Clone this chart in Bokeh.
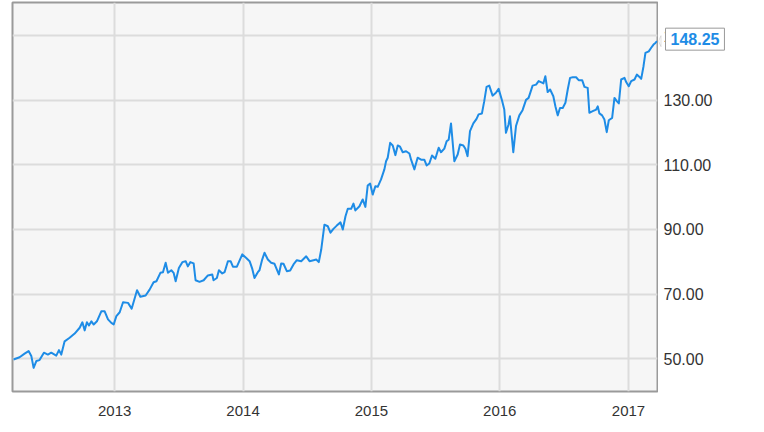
from datetime import datetime
from bokeh.plotting import figure
from bokeh.layouts import row
from bokeh.models import (Range1d, FixedTicker, DatetimeTickFormatter,
                          Label, PolyAnnotation)
from bokeh.core.properties import value
from bokeh.embed import file_html
from bokeh.resources import INLINE

# ---- data (decimal year, price) ----
year_frac = [
    2012.214, 2012.261, 2012.300, 2012.331, 2012.352, 2012.370, 2012.391, 2012.416, 2012.450, 2012.481,
    2012.507, 2012.533, 2012.546, 2012.567, 2012.585, 2012.611, 2012.650, 2012.689, 2012.728, 2012.749,
    2012.767, 2012.784, 2012.800, 2012.819, 2012.837, 2012.862, 2012.896, 2012.922, 2012.948, 2012.974,
    2012.992, 2013.013, 2013.039, 2013.065, 2013.104, 2013.132, 2013.174, 2013.200, 2013.241, 2013.272,
    2013.303, 2013.325, 2013.356, 2013.376, 2013.397, 2013.415, 2013.441, 2013.459, 2013.475, 2013.500,
    2013.527, 2013.553, 2013.570, 2013.589, 2013.615, 2013.630, 2013.661, 2013.693, 2013.726, 2013.760,
    2013.770, 2013.796, 2013.812, 2013.838, 2013.856, 2013.882, 2013.903, 2013.921, 2013.952, 2013.994,
    2014.025, 2014.051, 2014.072, 2014.089, 2014.115, 2014.128, 2014.149, 2014.167, 2014.193, 2014.219,
    2014.245, 2014.279, 2014.297, 2014.315, 2014.341, 2014.367, 2014.393, 2014.419, 2014.453, 2014.492,
    2014.518, 2014.549, 2014.570, 2014.590, 2014.609, 2014.634, 2014.660, 2014.681, 2014.704, 2014.730,
    2014.759, 2014.777, 2014.798, 2014.816, 2014.842, 2014.860, 2014.875, 2014.907, 2014.932, 2014.953,
    2014.971, 2014.990, 2015.010, 2015.031, 2015.049, 2015.075, 2015.101, 2015.114, 2015.127, 2015.146,
    2015.166, 2015.187, 2015.205, 2015.223, 2015.244, 2015.270, 2015.296, 2015.309, 2015.335, 2015.360,
    2015.387, 2015.412, 2015.430, 2015.451, 2015.472, 2015.498, 2015.524, 2015.542, 2015.568, 2015.586,
    2015.602, 2015.620, 2015.646, 2015.672, 2015.690, 2015.716, 2015.732, 2015.749, 2015.768, 2015.794,
    2015.819, 2015.835, 2015.861, 2015.879, 2015.897, 2015.918, 2015.944, 2015.970, 2015.991, 2016.017,
    2016.035, 2016.048, 2016.068, 2016.079, 2016.105, 2016.126, 2016.152, 2016.177, 2016.204, 2016.224,
    2016.255, 2016.282, 2016.302, 2016.328, 2016.339, 2016.354, 2016.372, 2016.391, 2016.416, 2016.432,
    2016.450, 2016.468, 2016.489, 2016.510, 2016.528, 2016.546, 2016.567, 2016.593, 2016.613, 2016.640,
    2016.658, 2016.683, 2016.696, 2016.722, 2016.749, 2016.761, 2016.774, 2016.795, 2016.813, 2016.831,
    2016.847, 2016.873, 2016.891, 2016.909, 2016.925, 2016.943, 2016.969, 2016.982, 2017.002, 2017.021,
    2017.047, 2017.065, 2017.086, 2017.099, 2017.117, 2017.132, 2017.158, 2017.177, 2017.195, 2017.210,
    2017.222,
]
price = [
    49.8, 50.5, 51.6, 52.4, 50.9, 47.2, 49.3, 49.6, 51.9, 51.3,
    51.9, 51.3, 51.0, 52.7, 51.3, 55.4, 56.5, 57.8, 59.6, 61.3,
    58.8, 61.3, 60.3, 61.6, 60.6, 61.6, 64.7, 64.7, 62.2, 61.1,
    60.6, 63.2, 64.4, 67.5, 67.3, 65.5, 71.2, 69.2, 69.6, 71.4,
    73.7, 74.0, 76.6, 76.8, 79.7, 76.6, 77.4, 76.6, 74.0, 78.1,
    79.9, 80.2, 78.6, 79.9, 79.5, 74.3, 73.8, 74.3, 75.8, 76.1,
    74.3, 75.0, 77.4, 76.4, 76.8, 80.2, 80.2, 78.5, 78.5, 82.3,
    81.2, 80.2, 77.8, 75.0, 76.8, 77.4, 80.7, 82.8, 80.7, 79.7,
    79.4, 76.1, 79.5, 79.4, 77.1, 77.3, 79.2, 80.5, 80.2, 81.7,
    80.2, 80.5, 80.7, 79.9, 83.8, 91.5, 91.0, 89.0, 90.2, 91.2,
    92.2, 90.0, 94.1, 96.4, 96.4, 98.0, 95.9, 97.2, 99.3, 97.0,
    103.6, 104.2, 100.8, 103.4, 103.2, 105.5, 108.6, 111.1, 112.2, 116.8,
    116.0, 113.0, 116.0, 115.6, 113.9, 114.2, 113.5, 111.6, 108.6, 112.2,
    111.6, 111.6, 109.8, 110.4, 112.9, 111.9, 115.3, 113.9, 115.0, 117.3,
    117.8, 122.8, 111.1, 113.2, 116.3, 116.0, 115.0, 112.7, 120.4, 122.8,
    124.2, 125.6, 125.9, 129.7, 134.1, 134.5, 131.4, 132.3, 133.5, 130.0,
    127.1, 119.9, 122.5, 125.0, 113.9, 122.0, 125.3, 126.9, 130.1, 130.7,
    134.5, 134.8, 135.9, 135.4, 135.2, 137.4, 132.5, 133.3, 131.2, 128.1,
    125.3, 127.6, 127.6, 129.2, 133.3, 136.9, 137.1, 137.1, 136.2, 136.2,
    134.1, 133.8, 126.1, 126.6, 127.1, 128.1, 125.9, 125.3, 124.0, 120.1,
    123.8, 124.5, 130.7, 129.7, 129.0, 136.4, 136.9, 135.6, 134.3, 135.9,
    136.4, 137.9, 137.2, 136.6, 140.5, 144.6, 145.1, 146.2, 147.2, 147.7,
    148.25,
]
y_ticks = [50, 70, 90, 110, 130, 150]
y_tick_labels = [f"{v:.2f}" for v in y_ticks]
x_tick_years = [2013, 2014, 2015, 2016, 2017]
last_label = f"{price[-1]:.2f}"

BLUE = "#1e8ce6"
TEXT = "#333333"
GRID = "#dcdcdc"
FRAME = "#9a9a9a"
FONT = "Liberation Sans"
EPOCH = datetime(1970, 1, 1)


def to_dt(yf):
    yr = int(yf)
    start, end = datetime(yr, 1, 1), datetime(yr + 1, 1, 1)
    return start + (end - start) * (yf - yr)


def to_ms(dt):
    return (dt - EPOCH).total_seconds() * 1000.0


dates = [to_dt(v) for v in year_frac]

x_start, x_end = to_ms(to_dt(2012.206)), to_ms(to_dt(2017.226))
y_range = Range1d(39.89, 160.21)
FW, FH = 645, 389
TOP, BOTTOM = 2, 30

# ---------------- main price panel ----------------
p = figure(
    x_axis_type="datetime", y_axis_location=None,
    x_range=Range1d(x_start, x_end), y_range=y_range,
    frame_width=FW, frame_height=FH,
    min_border_left=12, min_border_top=TOP, min_border_right=1, min_border_bottom=BOTTOM,
    output_backend="svg", toolbar_location=None,
    background_fill_color="#f6f6f6", border_fill_color="white",
)
p.outline_line_color = FRAME
p.outline_line_width = 2

p.xgrid.grid_line_color = GRID
p.xgrid.grid_line_width = 2
p.ygrid.ticker = FixedTicker(ticks=y_ticks)
p.ygrid.grid_line_color = GRID
p.ygrid.grid_line_width = 2

xa = p.xaxis[0]
xa.ticker = FixedTicker(ticks=[to_ms(datetime(y, 1, 1)) for y in x_tick_years])
xa.formatter = DatetimeTickFormatter(days="%Y", months="%Y", years="%Y")
xa.major_tick_line_color = None
xa.minor_tick_line_color = None
xa.axis_line_color = None
xa.major_label_standoff = 8
xa.major_label_text_font = FONT
xa.major_label_text_font_size = "15px"
xa.major_label_text_color = TEXT

p.line(dates, price, line_width=2, line_color=BLUE, line_join="round")

# ---------------- right value scale + last-value callout ----------------
W2 = 100
q = figure(
    x_range=Range1d(0, W2), y_range=y_range,
    x_axis_location=None, y_axis_location=None,
    frame_width=W2, frame_height=FH,
    min_border_left=0, min_border_top=TOP, min_border_right=0, min_border_bottom=BOTTOM,
    output_backend="svg", toolbar_location=None,
    background_fill_color="white", border_fill_color="white",
)
q.outline_line_color = None
q.grid.visible = False

q.text(x=[5] * len(y_ticks), y=y_ticks, text=y_tick_labels,
       text_align="left", text_baseline="middle",
       text_font=value(FONT), text_font_size="16px", text_color=TEXT)

ty = price[-1]
val_per_px = (y_range.end - y_range.start) / FH
lab = Label(x=7, y=ty, y_offset=2, text=last_label,
            text_align="left", text_baseline="middle",
            text_font=FONT, text_font_size="16px", text_font_style="bold",
            text_color=BLUE, background_fill_color="white",
            border_line_color=FRAME, border_line_width=1, padding=5)
q.add_layout(lab)
q.add_layout(PolyAnnotation(
    xs=[0, 2.5, 2.5],
    ys=[ty, ty + val_per_px * 5.5, ty - val_per_px * 5.5],
    fill_color="white", fill_alpha=1.0, line_color=FRAME, line_width=1,
))

layout = row(p, q, spacing=0)
open("out.html", "w").write(file_html(layout, INLINE))
